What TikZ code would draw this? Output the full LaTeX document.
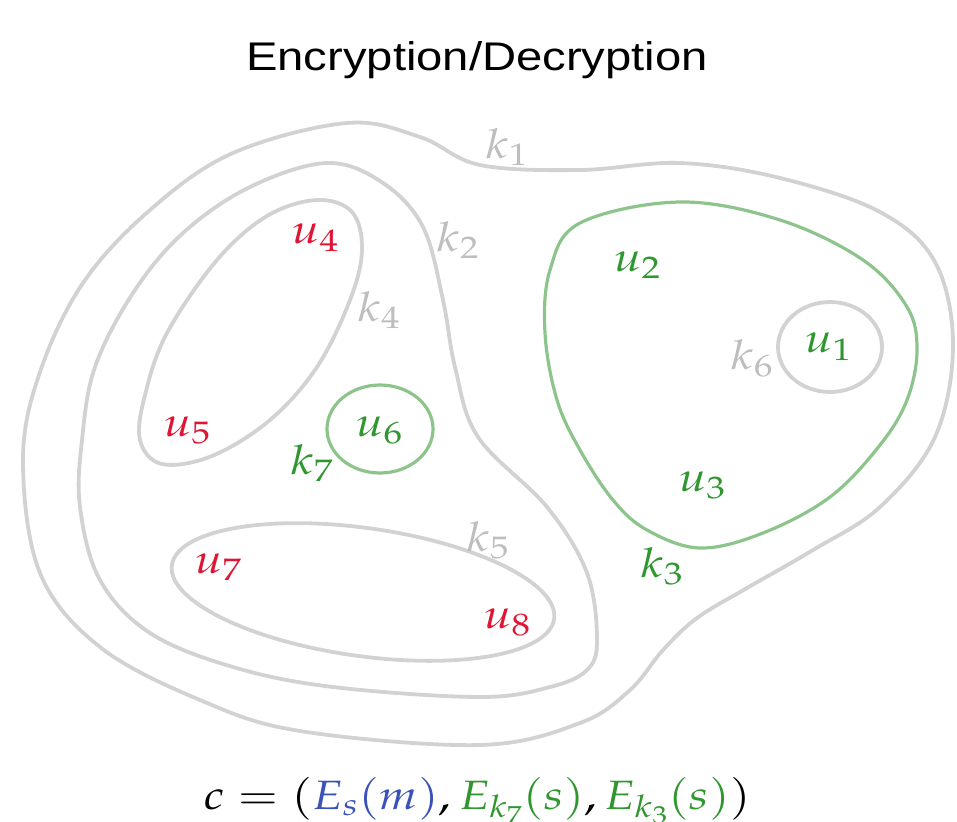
\documentclass[tikz,border=0pt]{standalone}
\usepackage{mathpazo}
\usepackage[no-math]{fontspec}
\newfontfamily\titlefont{Liberation Sans}

\definecolor{ringgray}{RGB}{210,210,210}
\definecolor{keygray}{RGB}{190,190,190}
\definecolor{ringgreen}{RGB}{140,196,140}
\definecolor{keygreen}{RGB}{48,150,48}
\definecolor{userred}{RGB}{222,22,52}
\definecolor{encblue}{RGB}{58,82,184}

% text is set slightly wide, as in the rest of the figure
\newcommand\widetext[1]{\scalebox{1.18}[1]{#1}}

\tikzset{
  ring/.style={draw=ringgray, line width=3.8pt},
  greenring/.style={draw=ringgreen, line width=3.2pt},
  lbl/.style={font=\fontsize{41}{46}\selectfont, inner sep=0pt},
  keylbl/.style={lbl, text=keygray},
  grnlbl/.style={lbl, text=keygreen},
  redlbl/.style={lbl, text=userred},
}

\begin{document}
\begin{tikzpicture}[x=1pt, y=-1pt]
\useasboundingbox (0,0) rectangle (957,821);

% title
\node[font=\titlefont\fontsize{40}{44}\selectfont, inner sep=0pt] (title) at (477,60) {\widetext{Encryption/Decryption}};

% key k1: outer region
\draw[ring] plot[smooth cycle, tension=0.6] coordinates {
  (347,123) (420,137) (480,165) (580,170) (680,163) (780,178) (880,212)
  (935,262) (953,345) (935,437) (880,507) (813,550) (747,588) (697,618)
  (663,650) (630,690) (580,723) (480,745) (300,731) (200,700) (100,647)
  (40,573) (23,460) (40,372) (83,283) (150,210) (233,153)};

% key k2
\draw[ring] plot[smooth cycle, tension=0.6] coordinates {
  (327,163) (383,183) (423,227) (443,300) (455,367) (478,437) (547,507)
  (587,573) (597,640) (587,670) (550,687) (480,697) (333,687) (233,667)
  (150,633) (100,580) (80,507) (82,440) (95,367) (133,293) (183,233) (250,187)};

% key k4
\draw[ring] plot[smooth cycle, tension=0.6] coordinates {
  (317,200) (352,212) (362,250) (350,300) (317,367) (270,420) (212,456)
  (162,464) (140,440) (145,395) (167,333) (217,260) (267,216)};

% key k5
\draw[ring] (363,592) ellipse [x radius=193, y radius=64, rotate=-8];

% key k3
\draw[greenring] plot[smooth cycle, tension=0.6] coordinates {
  (580,223) (680,202) (780,220) (863,260) (907,307) (917,350) (907,400)
  (880,445) (830,497) (763,533) (700,548) (647,530) (613,500) (580,450)
  (557,400) (545,333) (550,270)};

% key k7 and key k6
\draw[greenring] (380,429) ellipse [x radius=53, y radius=44];
\draw[ring] (830,347) ellipse [x radius=52, y radius=45];

% key labels
\node[keylbl] (k1) at (507,147) {\widetext{$k_1$}};
\node[keylbl] (k2) at (458,240) {\widetext{$k_2$}};
\node[keylbl] (k4) at (379,310) {\widetext{$k_4$}};
\node[keylbl] (k5) at (488,540) {\widetext{$k_5$}};
\node[keylbl] (k6) at (752,358) {\widetext{$k_6$}};
\node[grnlbl] (k7) at (312,463) {\widetext{$k_7$}};
\node[grnlbl] (k3) at (662,566) {\widetext{$k_3$}};

% users
\node[grnlbl] (u1) at (828,347) {\widetext{$u_1$}};
\node[grnlbl] (u2) at (637,265) {\widetext{$u_2$}};
\node[grnlbl] (u3) at (702,485) {\widetext{$u_3$}};
\node[redlbl] (u4) at (315,238) {\widetext{$u_4$}};
\node[redlbl] (u5) at (187,430) {\widetext{$u_5$}};
\node[grnlbl] (u6) at (379,430) {\widetext{$u_6$}};
\node[redlbl] (u7) at (218,567) {\widetext{$u_7$}};
\node[redlbl] (u8) at (507,622) {\widetext{$u_8$}};

% ciphertext
\node[lbl, anchor=base] (cipher) at (477,809) {\widetext{$c = ({\color{encblue}E_s(m)}, {\color{keygreen}E_{k_7}(s)}, {\color{keygreen}E_{k_3}(s)})$}};
\end{tikzpicture}
\end{document}
